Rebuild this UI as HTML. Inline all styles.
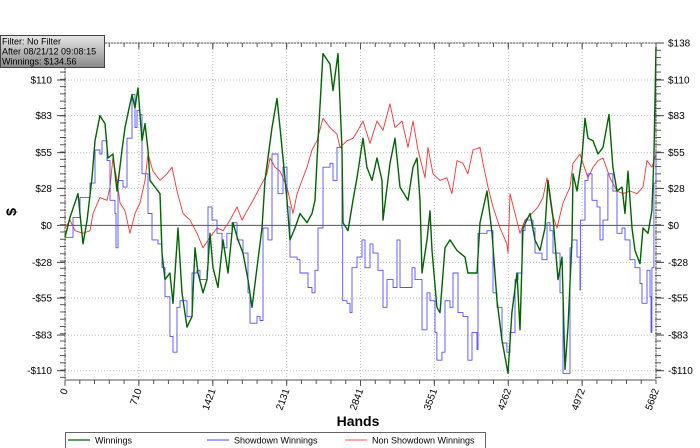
<!DOCTYPE html>
<html><head><meta charset="utf-8"><style>
body{margin:0;background:#fff;}
svg{display:block;font-family:"Liberation Sans",sans-serif;}
</style></head><body>
<svg id="chart" width="700" height="448" viewBox="0 0 700 448"></svg>
<script>
const xTicks=[0,710,1421,2131,2841,3551,4262,4972,5682];
const yTicks=[138,110,83,55,28,0,-28,-55,-83,-110];
const yTickLabels=["$138","$110","$83","$55","$28","$0","-$28","-$55","-$83","-$110"];
const winHands=[0,48,125,173,212,260,288,336,385,413,461,500,548,577,644,673,702,740,769,798,817,865,913,933,961,1009,1038,1086,1125,1173,1221,1250,1279,1327,1365,1394,1423,1471,1519,1567,1615,1663,1711,1759,1798,1846,1894,1923,1990,2038,2067,2096,2134,2163,2211,2259,2327,2375,2404,2432,2480,2548,2577,2625,2663,2673,2721,2769,2807,2865,2903,2952,3000,3048,3057,3125,3173,3221,3298,3346,3384,3413,3432,3480,3509,3528,3576,3605,3653,3701,3769,3846,3874,3961,3990,4057,4105,4153,4201,4259,4297,4346,4374,4403,4471,4519,4567,4615,4644,4692,4740,4778,4807,4836,4874,4884,4922,4970,4999,5028,5076,5124,5172,5230,5268,5307,5355,5384,5413,5451,5480,5528,5557,5605,5643,5662,5682];
const winValues=[-9,6,24,-14,4,36,64,83,77,51,54,26,57,74,99,89,104,64,77,57,34,29,24,-21,-41,-36,-59,-2,-51,-77,-69,-17,-36,-51,-41,-6,-32,-47,-11,-36,2,-11,-21,-41,-62,-32,-2,34,74,96,74,51,19,-11,-2,9,2,9,19,64,130,122,102,130,57,2,-4,19,36,66,44,34,51,34,4,47,66,29,19,44,51,19,-36,-11,11,-19,-62,-66,-17,-11,-19,-24,-36,-36,2,26,-6,-57,-87,-112,-66,-36,-79,-2,9,-11,-19,-2,34,6,-41,-24,-109,-77,-11,39,26,51,81,66,64,54,59,84,44,26,29,9,41,-2,-19,-29,-2,-6,11,51,135];
const sdHands=[0,77,144,240,288,336,356,404,433,481,490,510,558,596,644,673,692,721,740,798,836,894,933,961,1009,1038,1077,1106,1173,1221,1269,1298,1365,1375,1413,1461,1509,1557,1606,1654,1711,1759,1779,1846,1875,1904,1952,1990,2038,2048,2096,2134,2163,2231,2259,2336,2375,2404,2432,2480,2548,2577,2615,2663,2670,2711,2740,2759,2807,2855,2884,2932,2961,3009,3057,3096,3154,3192,3221,3288,3336,3365,3432,3480,3509,3557,3576,3624,3653,3701,3730,3778,3826,3874,3913,3961,3971,4057,4115,4153,4201,4249,4278,4326,4355,4394,4423,4499,4519,4586,4634,4663,4692,4759,4788,4826,4855,4874,4922,4951,4955,4999,5028,5067,5115,5144,5172,5220,5268,5307,5355,5384,5432,5480,5528,5547,5595,5624,5634,5643,5662,5682];
const sdValues=[-9,6,21,32,57,54,64,49,19,9,-17,34,29,66,99,74,87,84,39,9,-11,-14,-32,-54,-84,-96,-62,-57,-69,-36,-34,-41,-34,14,4,-6,-17,-6,2,-11,-21,-51,-74,-69,-72,-2,-11,54,54,24,44,14,-24,-26,-36,-47,-51,-34,-2,44,47,34,59,-2,-57,-59,-66,-32,-24,-11,-32,-14,-21,-34,-62,-41,-47,-11,-47,-47,-32,-41,-79,-51,-57,-81,-102,-96,-57,-62,-36,-66,-69,-102,-81,-94,-6,-4,-51,-62,-89,-96,-81,-41,-36,-4,4,-2,-21,-26,2,-4,-21,-51,-112,-112,-17,-11,-24,-49,4,34,39,19,14,-11,4,39,26,-6,-2,-11,-26,-32,-44,-59,-34,-54,-81,-32,32,54];
const nsdHands=[0,48,96,173,240,269,336,404,433,461,500,529,577,625,673,721,769,798,846,913,981,1029,1077,1134,1202,1269,1327,1394,1461,1519,1586,1654,1702,1750,1807,1875,1942,1971,2019,2067,2134,2192,2231,2279,2327,2375,2423,2480,2548,2615,2644,2711,2769,2817,2865,2932,3000,3057,3125,3173,3240,3298,3346,3394,3461,3490,3538,3605,3672,3720,3769,3826,3874,3923,3990,4019,4067,4115,4182,4249,4259,4278,4326,4374,4423,4490,4548,4596,4634,4682,4730,4788,4855,4884,4951,4980,5028,5076,5124,5172,5240,5307,5365,5432,5499,5557,5595,5643,5682];
const nsdValues=[-2,4,-4,-6,-4,9,21,19,29,51,34,17,11,-6,9,17,34,54,41,34,39,44,26,9,4,-6,-17,-9,-2,-4,4,14,4,11,19,29,39,51,44,41,29,9,24,34,44,57,64,81,74,69,59,64,66,72,79,62,79,72,92,74,79,59,79,57,36,59,39,34,36,24,49,47,39,57,59,47,29,14,-2,-14,-21,24,9,-6,4,9,14,21,36,9,-2,17,29,47,54,47,36,44,49,51,36,26,24,26,24,29,49,44,54];

const NS="http://www.w3.org/2000/svg";
const svg=document.getElementById('chart');
const L=65,R=656,T=43,B=380,X0=0,X1=5682,Y0=-117,Y1=138;
const xs=h=>L+(h-X0)/(X1-X0)*(R-L);
const ys=v=>B-(v-Y0)/(Y1-Y0)*(B-T);
function mk(tag,attrs,parent){const e=document.createElementNS(NS,tag);for(const k in attrs)e.setAttribute(k,attrs[k]);(parent||svg).appendChild(e);return e;}

const frame=mk('rect',{x:L,y:T,width:R-L,height:B-T,fill:'#fff',stroke:'#555','stroke-width':1});



xTicks.forEach(t=>{const g=mk('line',{x1:xs(t),x2:xs(t),y1:T,y2:B,stroke:'#bbb','stroke-dasharray':'1,2'});

});
yTicks.forEach(t=>{const g=mk('line',{x1:L,x2:R,y1:ys(t),y2:ys(t),stroke:'#bbb','stroke-dasharray':'1,2'});

});
const zl=mk('line',{x1:L,x2:R,y1:ys(0),y2:ys(0),stroke:'#555','stroke-width':1});



for(let i=0;i<xTicks.length-1;i++){for(let k=0;k<=5;k++){const h=xTicks[i]+(xTicks[i+1]-xTicks[i])*k/5;const x=xs(h);const len=k===0?6:4;
const a=mk('line',{x1:x,x2:x,y1:B,y2:B+len,stroke:'#555'});
const b=mk('line',{x1:x,x2:x,y1:T,y2:T+len,stroke:'#555'});}}
for(let v=-115;v<=138;v+=5.5){const y=ys(v);
const a=mk('line',{x1:L-5,x2:L+1,y1:y,y2:y,stroke:'#555'});
const b=mk('line',{x1:R-1,x2:R+5,y1:y,y2:y,stroke:'#555'});}
yTicks.forEach((t,i)=>{const y=ys(t);
mk('line',{x1:L-8,x2:L,y1:y,y2:y,stroke:'#444'});mk('line',{x1:R,x2:R+8,y1:y,y2:y,stroke:'#444'});
const l=mk('text',{x:L-13,y:y+3.5,'text-anchor':'end','font-size':10,fill:'#000'});l.textContent=yTickLabels[i];

const r=mk('text',{x:R+12,y:y+3.5,'text-anchor':'start','font-size':10,fill:'#000'});r.textContent=yTickLabels[i];
});
xTicks.forEach(t=>{const x=xs(t);const l=mk('text',{x:0,y:0,'text-anchor':'end','font-size':10,fill:'#000',transform:`translate(${x+3},${B+10}) rotate(-70)`});l.textContent=String(t);
});

function series(hands,vals,color,w,name,step){let d='';hands.forEach((h,i)=>{const x=xs(h).toFixed(1),y=ys(vals[i]).toFixed(1);
if(i===0)d+='M'+x+','+y;else if(step)d+='H'+x+'V'+y;else d+='L'+x+','+y;});
const p=mk('path',{d:d,fill:'none',stroke:color,'stroke-width':w,'stroke-linejoin':'round'});
}
series(nsdHands,nsdValues,'#ff3030',0.9,'non-showdown-winnings-line',false);
series(sdHands,sdValues,'#5050ff',0.9,'showdown-winnings-line',true);
series(winHands,winValues,'#006400',1.4,'winnings-line',false);

const xt=mk('text',{x:358,y:426,'text-anchor':'middle','font-size':14,'font-weight':'bold'});xt.textContent='Hands';

const yt=mk('text',{x:0,y:0,'text-anchor':'middle','font-size':14,'font-weight':'bold',transform:'translate(16,212) rotate(-90)'});yt.textContent='$';


const defs=mk('defs',{});const gr=mk('linearGradient',{id:'ig',x1:0,y1:0,x2:0,y2:1},defs);
mk('stop',{offset:0,'stop-color':'#e8e8e8'},gr);mk('stop',{offset:1,'stop-color':'#888'},gr);
const ib=mk('g',{});
mk('rect',{x:0.5,y:35.5,width:104,height:32,fill:'url(#ig)',stroke:'#444'},ib);
['Filter: No Filter','After 08/21/12 09:08:15','Winnings: $134.56'].forEach((s,i)=>{const t=mk('text',{x:2,y:44.5+i*10,'font-size':9,fill:'#000'},ib);t.textContent=s;});

const lg=mk('g',{});
mk('rect',{x:65.5,y:432.5,width:420,height:20,fill:'#fff',stroke:'#666'},lg);
[['#006400','Winnings',68],['#6a6aff','Showdown Winnings',207],['#ff7070','Non Showdown Winnings',345]].forEach(([c,s,x])=>{
const e=mk('g',{},lg);
mk('line',{x1:x,x2:x+22,y1:440,y2:440,stroke:c,'stroke-width':1.2},e);
const t=mk('text',{x:x+27,y:443.5,'font-size':9,fill:'#000'},e);t.textContent=s;});
</script>
</body></html>
